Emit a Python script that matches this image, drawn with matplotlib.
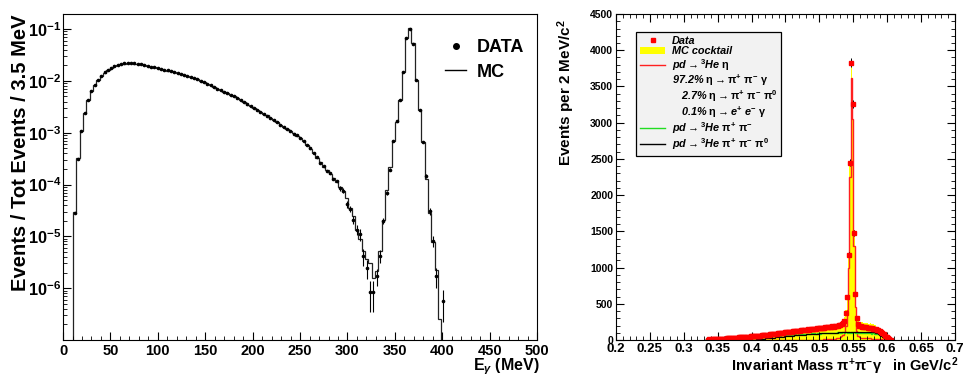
import numpy as np
import matplotlib
matplotlib.use("Agg")
import matplotlib.pyplot as plt
from matplotlib.lines import Line2D
from matplotlib.patches import Patch
from matplotlib.ticker import MultipleLocator, LogLocator, NullFormatter, FormatStrFormatter

plt.rcParams['font.family'] = ['Liberation Sans', 'DejaVu Sans']
plt.rcParams['font.weight'] = 'bold'
plt.rcParams['mathtext.fontset'] = 'custom'
plt.rcParams['mathtext.rm'] = 'Liberation Sans:bold'
plt.rcParams['mathtext.bf'] = 'Liberation Sans:bold'
plt.rcParams['mathtext.it'] = 'Liberation Sans:bold:italic'

# ---------------- left panel: photon energy spectrum ----------------
e_start, e_width = 10.5, 3.5   # first bin edge and bin width (MeV)

mc_frac = [
    2.9e-5, 3.2e-4, 1.1e-3, 2.4e-3, 4.3e-3, 6.5e-3, 8.3e-3, 1.05e-2, 1.26e-2, 1.45e-2,
    1.62e-2, 1.78e-2, 1.95e-2, 2.04e-2, 2.11e-2, 2.16e-2, 2.19e-2, 2.19e-2, 2.16e-2, 2.14e-2,
    2.09e-2, 2.02e-2, 1.95e-2, 1.88e-2, 1.82e-2, 1.76e-2, 1.70e-2, 1.64e-2, 1.58e-2, 1.53e-2,
    1.48e-2, 1.43e-2, 1.38e-2, 1.32e-2, 1.26e-2, 1.20e-2, 1.14e-2, 1.07e-2, 1.00e-2, 9.4e-3,
    8.8e-3, 8.2e-3, 7.6e-3, 7.1e-3, 6.6e-3, 6.2e-3, 5.8e-3, 5.4e-3, 5.0e-3, 4.6e-3,
    4.2e-3, 3.9e-3, 3.5e-3, 3.3e-3, 3.0e-3, 2.75e-3, 2.5e-3, 2.3e-3, 2.15e-3, 1.95e-3,
    1.76e-3, 1.58e-3, 1.43e-3, 1.29e-3, 1.17e-3, 1.07e-3, 9.8e-4, 8.8e-4, 7.9e-4, 6.8e-4,
    5.8e-4, 4.9e-4, 4.1e-4, 3.3e-4, 2.7e-4, 2.2e-4, 1.9e-4, 1.6e-4, 1.35e-4, 1.1e-4,
    8.9e-5, 7.4e-5, 5.6e-5, 3.5e-5, 2.5e-5, 1.35e-5, 8.7e-6, 5.2e-6, 3.6e-6, 3.1e-6,
    1.6e-6, 2.1e-6, 5.2e-6, 2.1e-5, 7.9e-5, 2.2e-4, 6.8e-4, 1.6e-3, 4.3e-3, 1.5e-2,
    6.8e-2, 1.05e-1, 5.4e-2, 1.05e-2, 2.75e-3, 6.5e-4, 1.26e-4, 2.8e-5, 7.9e-6, 2.2e-6,
    2.5e-7,
]

data_frac = [
    2.8e-5, 3.1e-4, 1.08e-3, 2.35e-3, 4.2e-3, 6.4e-3, 8.4e-3, 1.04e-2, 1.27e-2, 1.46e-2,
    1.63e-2, 1.78e-2, 1.94e-2, 2.05e-2, 2.12e-2, 2.17e-2, 2.2e-2, 2.19e-2, 2.17e-2, 2.13e-2,
    2.09e-2, 2.03e-2, 1.96e-2, 1.89e-2, 1.82e-2, 1.76e-2, 1.71e-2, 1.64e-2, 1.59e-2, 1.53e-2,
    1.48e-2, 1.43e-2, 1.37e-2, 1.32e-2, 1.26e-2, 1.2e-2, 1.13e-2, 1.07e-2, 1.0e-2, 9.5e-3,
    8.8e-3, 8.2e-3, 7.7e-3, 7.1e-3, 6.6e-3, 6.2e-3, 5.8e-3, 5.4e-3, 5.0e-3, 4.6e-3,
    4.2e-3, 3.9e-3, 3.6e-3, 3.3e-3, 3.0e-3, 2.8e-3, 2.5e-3, 2.3e-3, 2.1e-3, 1.95e-3,
    1.75e-3, 1.6e-3, 1.42e-3, 1.3e-3, 1.16e-3, 1.08e-3, 9.6e-4, 8.9e-4, 7.8e-4, 6.9e-4,
    5.7e-4, 5.0e-4, 4.0e-4, 3.4e-4, 2.6e-4, 2.3e-4, 1.8e-4, 1.65e-4, 1.3e-4, 1.15e-4,
    8.5e-5, 7.6e-5, 4.2e-5, 3.4e-5, 2.1e-5, 1.35e-5, 1.1e-5, 4.2e-6, 2.5e-6, 8.5e-7,
    8.5e-7, 1.7e-6, 4.2e-6, 2.0e-5, 6.9e-5, 1.95e-4, 6.8e-4, 1.66e-3, 4.3e-3, 1.5e-2,
    6.6e-2, 1.02e-1, 5.2e-2, 1.05e-2, 2.75e-3, 6.5e-4, 1.45e-4, 3.1e-5, 8.1e-6, 1.7e-6,
    0.0, 5.7e-7,
]

data_err = [0.0] * 80 + [
    1.0e-5, 8e-6, 6e-6, 5e-6, 4e-6, 3e-6, 3e-6, 1.5e-6, 1.0e-6, 5e-7,
    5e-7, 6e-7, 1.2e-6, 3e-6, 6e-6, 1e-5, 2e-5, 3e-5, 6e-5, 1.5e-4,
    4e-4, 5e-4, 3e-4, 1.3e-4, 6e-5, 2.5e-5, 1.2e-5, 5e-6, 2e-6, 7e-7,
    0.0, 3.5e-7,
]

# ---------------- right panel: invariant mass ----------------
m_start, m_width = 0.330, 0.002   # GeV/c^2

mass_data = [
    0, 0, 5, 8, 6, 10, 9, 12, 11, 14,
    13, 16, 15, 18, 20, 19, 22, 24, 23, 26,
    28, 27, 30, 32, 31, 35, 37, 36, 40, 42,
    41, 45, 47, 46, 50, 52, 55, 54, 58, 60,
    62, 61, 65, 68, 70, 69, 74, 76, 78, 80,
    83, 85, 84, 88, 92, 95, 94, 98, 100, 104,
    106, 108, 112, 110, 115, 118, 122, 120, 126, 128,
    130, 134, 132, 138, 140, 143, 146, 144, 150, 152,
    155, 158, 156, 162, 165, 163, 168, 170, 172, 175,
    178, 176, 182, 185, 188, 186, 192, 195, 198, 205,
    212, 220, 235, 260, 378, 600, 1177, 2447, 3830, 3254,
    1478, 637, 300, 215, 195, 190, 185, 182, 178, 175,
    172, 168, 165, 160, 156, 150, 146, 140, 132, 125,
    110, 95, 78, 60, 42, 25, 12, 5, 0, 0,
]

mc_eta = [0] * 80 + [
    2, 3, 3, 4, 5, 5, 6, 7, 8, 9,
    10, 11, 12, 13, 15, 17, 19, 22, 26, 32,
    40, 52, 75, 110, 200, 410, 990, 2250, 3620, 3050,
    1300, 460, 130, 50, 35, 30, 28, 26, 25, 24,
    23, 22, 21, 20, 19, 18, 16, 14, 12, 10,
    8, 6, 4, 3, 2, 1, 0, 0, 0, 0,
]

mc_pipi = [0] * 20 + [
    3, 5, 4, 8, 10, 12, 15, 14, 18, 20,
    22, 26, 24, 30, 28, 33, 35, 31, 38, 36,
    40, 44, 39, 46, 42, 48, 52, 47, 55, 50,
    56, 60, 54, 62, 58, 64, 61, 66, 70, 63,
    68, 72, 66, 74, 70, 76, 73, 78, 75, 80,
    77, 82, 79, 84, 80, 86, 83, 88, 85, 90,
    86, 92, 88, 90, 94, 89, 96, 92, 95, 91,
    97, 93, 99, 95, 100, 96, 102, 98, 104, 100,
    103, 99, 105, 101, 104, 100, 106, 102, 105, 101,
    104, 100, 103, 98, 102, 97, 100, 95, 98, 93,
    96, 90, 94, 88, 91, 85, 88, 80, 84, 75,
    70, 62, 55, 45, 35, 22, 12, 5, 0, 0,
]

mc_pipipi0 = [0] * 35 + [
    2, 4, 6, 8, 10,
    12, 14, 16, 18, 20, 22, 24, 26, 28, 30,
    32, 34, 36, 38, 40, 42, 44, 46, 48, 50,
    52, 54, 56, 57, 59, 61, 63, 64, 66, 68,
    69, 71, 72, 74, 75, 77, 78, 80, 81, 82,
    84, 85, 86, 88, 89, 90, 91, 92, 93, 94,
    95, 96, 97, 98, 99, 100, 101, 102, 103, 104,
    104, 105, 106, 106, 107, 108, 108, 109, 110, 110,
    111, 111, 112, 112, 113, 113, 114, 114, 115, 115,
    115, 114, 113, 111, 108, 104, 98, 90, 80, 68,
    55, 42, 30, 19, 10, 4, 1, 0, 0, 0,
]

legend_labels = [
    'Data',
    'MC cocktail',
    r'pd$\rightarrow$$^{3}$He $\mathrm{\eta}$',
    r'97.2% $\mathrm{\eta}$$\rightarrow$$\mathrm{\pi^{+}\ \pi^{-}\ \gamma}$',
    r'   2.7% $\mathrm{\eta}$$\rightarrow$$\mathrm{\pi^{+}\ \pi^{-}\ \pi^{0}}$',
    r'   0.1% $\mathrm{\eta}$$\rightarrow$e$^{+}$ e$^{-}$ $\mathrm{\gamma}$',
    r'pd$\rightarrow$$^{3}$He $\mathrm{\pi^{+}\ \pi^{-}}$',
    r'pd$\rightarrow$$^{3}$He $\mathrm{\pi^{+}\ \pi^{-}\ \pi^{0}}$',
]

fig = plt.figure(figsize=(9.67, 3.76), dpi=100)

# ---- left ----
ax1 = fig.add_axes([0.0652, 0.0957, 0.4902, 0.867])
mc = np.array(mc_frac)
edges = e_start + e_width * np.arange(len(mc) + 1)
ax1.stairs(mc, edges, baseline=1e-12, color='#222222', lw=0.9)

dvals = np.array(data_frac)
derr = np.array(data_err)
centers = e_start + e_width * (np.arange(len(dvals)) + 0.5)
ok = dvals > 0
lo = np.minimum(derr, dvals * 0.95)
ax1.errorbar(centers[ok], dvals[ok], yerr=[lo[ok], derr[ok]], fmt='o', ms=1.6,
             color='black', ecolor='black', elinewidth=0.8, capsize=0)

ax1.set_yscale('log')
ax1.set_xlim(0, 500)
ax1.set_ylim(1e-7, 0.195)
ax1.set_yticks([1e-6, 1e-5, 1e-4, 1e-3, 1e-2, 1e-1])
ax1.set_yticklabels([r'$\mathbf{10^{-%d}}$' % k for k in range(6, 0, -1)], fontsize=11.8)
ax1.yaxis.set_minor_locator(LogLocator(base=10, subs=np.arange(2, 10)))
ax1.yaxis.set_minor_formatter(NullFormatter())
ax1.xaxis.set_major_locator(MultipleLocator(50))
ax1.xaxis.set_minor_locator(MultipleLocator(10))
ax1.tick_params(axis='both', which='both', direction='in')
ax1.tick_params(axis='both', which='major', length=6)
ax1.tick_params(axis='both', which='minor', length=3)
ax1.tick_params(axis='x', labelsize=10.5, pad=3)
ax1.tick_params(axis='y', pad=1.5)
ax1.set_ylabel('Events / Tot Events / 3.5 MeV', fontsize=14.5, fontweight='bold', loc='top')
ax1.yaxis.set_label_coords(-0.07, 1.0)
ax1.text(1.005, -0.05, r'E$_{\gamma}$ (MeV)', transform=ax1.transAxes, ha='right', va='top',
         fontsize=11.5, fontweight='bold')

h1 = [Line2D([], [], marker='o', ls='none', color='black', ms=4),
      Line2D([], [], color='black', lw=1)]
ax1.legend(h1, ['DATA', 'MC'], loc='upper left', bbox_to_anchor=(0.79, 0.945), frameon=False,
           prop={'weight': 'bold', 'size': 13}, handlelength=1.2, handletextpad=0.6,
           labelspacing=0.42, borderaxespad=0)

# ---- right ----
ax2 = fig.add_axes([0.637, 0.0957, 0.3506, 0.867])
md = np.array(mass_data, dtype=float)
eta = np.array(mc_eta, dtype=float)
pipi = np.array(mc_pipi, dtype=float)
p3 = np.array(mc_pipipi0, dtype=float)
cocktail = eta + pipi + p3
medges = m_start + m_width * np.arange(len(md) + 1)
mcent = m_start + m_width * (np.arange(len(md)) + 0.5)

ax2.stairs(cocktail, medges, fill=True, color='#ffff00', lw=0)
ax2.stairs(eta, medges, color='#ff2020', lw=1.0)
ax2.stairs(pipi, medges, color='#22dd22', lw=1.0)
ax2.stairs(p3, medges, color='black', lw=0.9)
dk = md > 0
ax2.errorbar(mcent[dk], md[dk], yerr=np.sqrt(md[dk]), fmt='s', ms=3.2, mfc='#ff0000',
             mec='#ff0000', ecolor='black', elinewidth=0.7, capsize=0)

ax2.set_xlim(0.2, 0.7)
ax2.set_ylim(0, 4500)
ax2.xaxis.set_major_locator(MultipleLocator(0.05))
ax2.xaxis.set_minor_locator(MultipleLocator(0.01))
ax2.xaxis.set_major_formatter(FormatStrFormatter('%g'))
ax2.yaxis.set_major_locator(MultipleLocator(500))
ax2.yaxis.set_minor_locator(MultipleLocator(100))
ax2.tick_params(axis='both', which='both', direction='in', top=True, right=True)
ax2.tick_params(axis='both', which='major', length=6)
ax2.tick_params(axis='both', which='minor', length=3)
ax2.tick_params(axis='x', labelsize=9.5, pad=2)
ax2.tick_params(axis='y', labelsize=7.5, pad=2)
ax2.set_ylabel(r'Events per 2 MeV/c$^{2}$', fontsize=11, fontweight='bold', loc='top')
ax2.yaxis.set_label_coords(-0.115, 0.985)
ax2.text(1.01, -0.095, r'Invariant Mass $\mathrm{\pi^{+}\pi^{-}\gamma}$   in GeV/c$^{2}$',
         transform=ax2.transAxes, ha='right', va='baseline', fontsize=10.5, fontweight='bold')

h2 = [Line2D([], [], marker='s', ls='none', color='#ff0000', ms=2.8),
      Patch(facecolor='#ffff00', edgecolor='none'),
      Line2D([], [], color='#ff2020', lw=1),
      Line2D([], [], ls='none'),
      Line2D([], [], ls='none'),
      Line2D([], [], ls='none'),
      Line2D([], [], color='#22dd22', lw=1),
      Line2D([], [], color='black', lw=1)]
leg = ax2.legend(h2, legend_labels, loc='upper left', bbox_to_anchor=(0.059, 0.945),
                 borderaxespad=0, fancybox=False, framealpha=1, edgecolor='black',
                 facecolor='#f2f2f2', prop={'weight': 'bold', 'style': 'italic', 'size': 7.8},
                 handlelength=2.3, handletextpad=0.6, labelspacing=0.03, borderpad=0.38)
leg.get_frame().set_linewidth(0.9)

fig.savefig('out.png', dpi=100)
